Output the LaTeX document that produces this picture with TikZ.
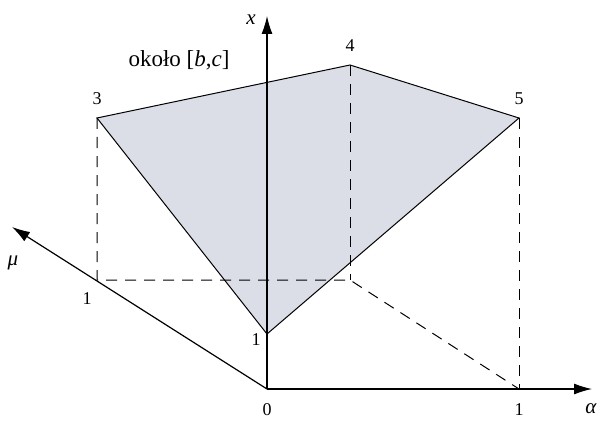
\documentclass[tikz,border=0pt]{standalone}
\usepackage{fontspec}
\setmainfont{Liberation Serif}
\usetikzlibrary{arrows.meta}
\definecolor{polyfill}{RGB}{219,222,231}
\begin{document}
\begin{tikzpicture}[x=1pt,y=-1pt,
  axis/.style={line width=1.2pt,-{Latex[length=18pt,width=11pt]}},
  edge/.style={line width=1pt},
  guide/.style={line width=1pt,dash pattern=on 11pt off 8pt},
  lbl/.style={font=\fontsize{18}{20}\selectfont,inner sep=1pt},
  biglbl/.style={font=\fontsize{21}{23}\selectfont,inner sep=1pt},
  titlelbl/.style={font=\fontsize{23}{25}\selectfont,inner sep=1pt}]
\useasboundingbox (0,0) rectangle (601,422);
\coordinate (O) at (267,389);
\coordinate (X) at (267,16);
\coordinate (A) at (592,389);
\coordinate (M) at (12,227);
\coordinate (P3) at (97,118);
\coordinate (P4) at (350,65);
\coordinate (P5) at (519,118);
\coordinate (PX) at (267,334);
\coordinate (MU1) at (97,280);
\coordinate (B) at (350,280);
\coordinate (AL1) at (519,389);
\fill[polyfill] (P3) -- (P4) -- (P5) -- (PX) -- cycle;
\draw[guide] (P3) -- (MU1) -- (B) -- (AL1);
\draw[guide] (P4) -- (B);
\draw[guide] (P5) -- (AL1);
\draw[edge] (P3) -- (P4) -- (P5) -- (PX) -- cycle;
\draw[axis] (O) -- (X);
\draw[axis] (O) -- (A);
\draw[axis] (O) -- (M);
\node[biglbl] (lx) at (251,20) {\textit{x}};
\node[biglbl] (la) at (591,409) {\textit{α}};
\node[biglbl] (lm) at (13,263) {\textit{μ}};
\node[lbl] (l0) at (267,410) {0};
\node[lbl] (l1a) at (519,410) {1};
\node[lbl] (l1m) at (87,299) {1};
\node[lbl] (l1x) at (256,340) {1};
\node[lbl] (l3) at (97,99) {3};
\node[lbl] (l4) at (350,46) {4};
\node[lbl] (l5) at (519,99) {5};
\node[titlelbl] (lab) at (179,60) {około [\textit{b},\textit{c}]};
\end{tikzpicture}
\end{document}
